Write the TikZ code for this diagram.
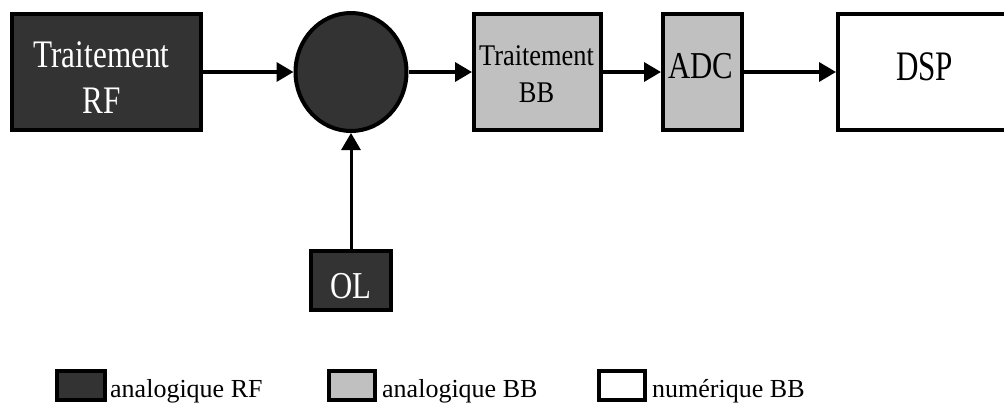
\documentclass[tikz,border=0pt]{standalone}
\usepackage{fontspec}
\setmainfont{Liberation Serif}
\newfontfamily\rffont[FakeStretch=0.80]{Liberation Serif}
\newfontfamily\bbfont[FakeStretch=0.88]{Liberation Serif}
\newfontfamily\adcfont[FakeStretch=0.81]{Liberation Serif}
\newfontfamily\dspfont[FakeStretch=0.74]{Liberation Serif}
\usetikzlibrary{arrows.meta,shapes.geometric}
\definecolor{rfdark}{HTML}{333333}
\definecolor{bbgray}{HTML}{C0C0C0}

\begin{document}
\begin{tikzpicture}[x=1pt,y=-1pt,
  block/.style={draw=black,line width=4pt,inner sep=0pt},
  rfblock/.style={block,fill=rfdark},
  bbblock/.style={block,fill=bbgray},
  numblock/.style={block,fill=white},
  flow/.style={line width=3.5pt,-{Triangle[length=17pt,width=19pt]}},
  lbl/.style={anchor=base,inner sep=0pt},
  legtext/.style={anchor=base west,inner sep=0pt,font=\fontsize{26}{30}\selectfont}
]
\useasboundingbox (0,0) rectangle (1004,405);

% processing chain
\node[rfblock,minimum width=189pt,minimum height=116pt] (rf) at (106.5,72) {};
\node[block,ellipse,fill=rfdark,minimum width=111pt,minimum height=118pt] (mix) at (351,72) {};
\node[bbblock,minimum width=127pt,minimum height=116pt] (bb) at (537.5,72) {};
\node[bbblock,minimum width=79pt,minimum height=116pt] (adc) at (702.5,72) {};
\node[numblock,minimum width=170pt,minimum height=116pt] (dsp) at (923,72) {};
\node[rfblock,minimum width=80pt,minimum height=59pt] (ol) at (351,280.5) {};

% block captions
\node[lbl,text=white,font=\rffont\fontsize{39}{46}\selectfont] (rft1) at (101.5,67) {Traitement};
\node[lbl,text=white,font=\rffont\fontsize{39}{46}\selectfont] (rft2) at (101.5,113) {RF};
\node[lbl,font=\bbfont\fontsize{30}{37}\selectfont] (bbt1) at (536.5,65) {Traitement};
\node[lbl,font=\bbfont\fontsize{30}{37}\selectfont] (bbt2) at (536.5,102) {BB};
\node[lbl,font=\adcfont\fontsize{38}{44}\selectfont] (adct) at (700.5,78) {ADC};
\node[lbl,font=\dspfont\fontsize{42}{48}\selectfont] (dspt) at (924.5,80) {DSP};
\node[lbl,text=white,font=\adcfont\fontsize{38}{44}\selectfont] (olt) at (351,298) {OL};

% signal flow
\draw[flow] (rf) -- (mix);
\draw[flow] (mix) -- (bb);
\draw[flow] (bb) -- (adc);
\draw[flow] (adc) -- (dsp);
\draw[flow,line width=3pt] (ol) -- (mix);

% legend
\node[rfblock,minimum width=48pt,minimum height=29pt] (key1) at (81,385.5) {};
\node[bbblock,minimum width=46pt,minimum height=29pt] (key2) at (352,385.5) {};
\node[numblock,minimum width=46pt,minimum height=29pt] (key3) at (622,385.5) {};
\node[legtext] (key1t) at (110,397) {analogique RF};
\node[legtext] (key2t) at (382,397) {analogique BB};
\node[legtext] (key3t) at (652,397) {numérique BB};
\end{tikzpicture}
\end{document}
